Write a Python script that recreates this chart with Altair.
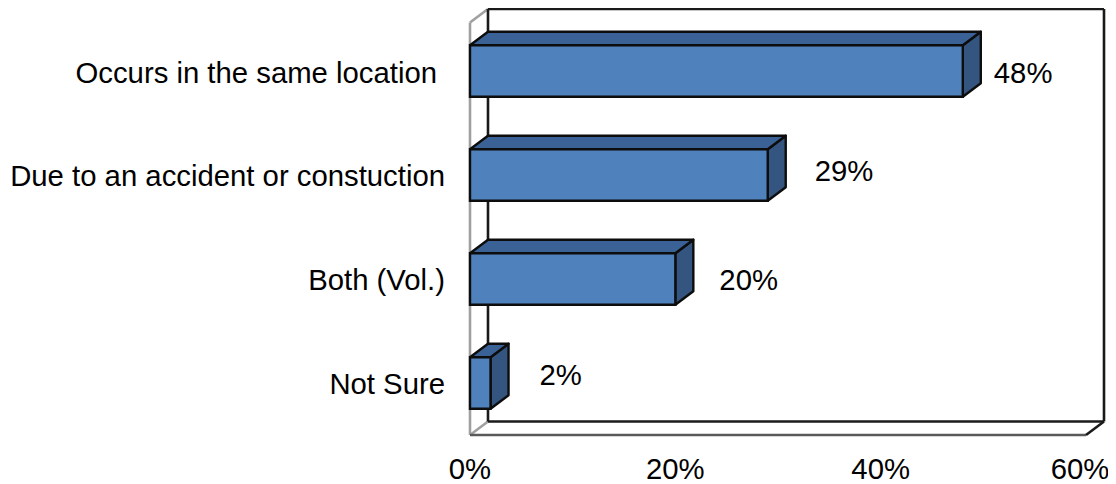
import altair as alt
import pandas as pd

categories = ["Not Sure", "Both (Vol.)", "Due to an accident or constuction", "Occurs in the same location"]
values = [2, 20, 29, 48]
x_ticks = [0, 20, 40, 60]

# pixel calibration of the 3D frame
PX_X = 616 / 60
PX_Y = 104.0
DX = 18 / PX_X
DY = 13.5 / PX_Y
HALF = 25.7 / PX_Y
FONT = "Liberation Sans"
FS = 29.3
XMAX = 634 / PX_X
YMAX = 427 / PX_Y
TOP_BACK = (435 - 9) / PX_Y
X60 = 60

xs = alt.Scale(domain=[0, XMAX], nice=False, zero=False)
ys = alt.Scale(domain=[0, YMAX], nice=False, zero=False)
X = lambda f: alt.X(f, type="quantitative", scale=xs, title=None, axis=None)
Y = lambda f: alt.Y(f, type="quantitative", scale=ys, title=None, axis=None)

bars = pd.DataFrame({"name": categories, "v": values})
bars["c"] = [i + 0.5 for i in range(len(categories))]
bars["lo"] = bars.c - HALF
bars["hi"] = bars.c + HALF
bars["zero"] = 0


def seg(rows, color, width):
    df = pd.DataFrame(rows, columns=["x", "y", "x2", "y2"])
    return alt.Chart(df).mark_rule(color=color, strokeWidth=width).encode(
        x=X("x"), y=Y("y"), x2="x2:Q", y2="y2:Q")

top = TOP_BACK
grey = seg([[0, 0, 0, top - DY], [0, top - DY, DX, top], [0, 0, DX, DY]], "#a0a0a0", 2.6)
black = seg([[DX, DY, DX, top], [DX, DY, X60 + DX, DY], [X60 + DX, DY, X60 + DX, top],
             [DX, top, X60 + DX, top], [X60, 0, X60 + DX, DY]], "#1a1a1a", 2.6)
floor = seg([[0, 0, X60, 0]], "#595959", 2.6)

side_rows, top_rows = [], []
for _, r in bars.iterrows():
    n = r["name"]
    pts_side = [(r.v, r.lo), (r.v + DX, r.lo + DY), (r.v + DX, r.hi + DY), (r.v, r.hi), (r.v, r.lo)]
    pts_top = [(0, r.hi), (DX, r.hi + DY), (r.v + DX, r.hi + DY), (r.v, r.hi), (0, r.hi)]
    side_rows += [dict(name=n, s=i, x=p[0], y=p[1]) for i, p in enumerate(pts_side)]
    top_rows += [dict(name=n, s=i, x=p[0], y=p[1]) for i, p in enumerate(pts_top)]

def face(rows, color):
    return alt.Chart(pd.DataFrame(rows)).mark_line(
        fill=color, stroke="#0d0d0d", strokeWidth=2.4, strokeJoin="round").encode(
        x=X("x"), y=Y("y"), detail="name:N", order="s:Q")

side = face(side_rows, "#34557f")
top_face = face(top_rows, "#3b6297")
front = alt.Chart(bars).mark_rect(color="#4f81bd", stroke="#0d0d0d", strokeWidth=2.4).encode(
    x=X("zero"), x2="v:Q", y=Y("lo"), y2="hi:Q")

layers = [grey, floor, black, side, top_face, front]

cat_dx = [-25, -25, -25, -33]
cat_dy = [2, 2, 2, 3]
val_dx = [49, 44, 47, 31]
val_dy = [-7, 2, -3, 3]
for i, _ in enumerate(categories):
    row = bars.iloc[[i]]
    layers.append(alt.Chart(row).mark_text(align="right", baseline="middle", font=FONT, fontSize=FS,
                                           color="#000000", dx=cat_dx[i], dy=cat_dy[i]).encode(
        x=X("zero"), y=Y("c"), text="name:N"))
    layers.append(alt.Chart(row).transform_calculate(lab="datum.v + '%'").mark_text(
        align="left", baseline="middle", font=FONT, fontSize=FS, color="#000000",
        dx=val_dx[i], dy=val_dy[i]).encode(
        x=X("v"), y=Y("c"), text="lab:N"))

tick_dx = [0, 0, 0, -6]
for t, d in zip(x_ticks, tick_dx):
    tick = pd.DataFrame({"x": [t], "y": [0]})
    layers.append(alt.Chart(tick).transform_calculate(lab="datum.x + '%'").mark_text(
        align="center", baseline="middle", font=FONT, fontSize=FS, color="#000000", dx=d, dy=35).encode(
        x=X("x"), y=Y("y"), text="lab:N"))

chart = alt.layer(*layers).properties(
    width=634, height=427,
    autosize=alt.AutoSizeParams(type="none"),
    padding={"left": 462, "top": 0, "right": 4, "bottom": 49},
    background="#ffffff",
).configure_view(stroke=None)

chart.save("out.html", embed_options={"renderer": "svg", "actions": False})
